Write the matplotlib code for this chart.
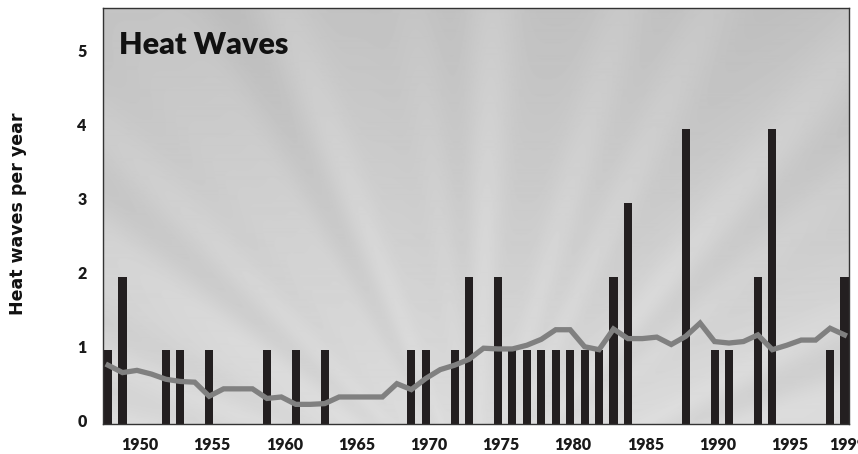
import numpy as np
import matplotlib
matplotlib.use("Agg")
import matplotlib.pyplot as plt
from matplotlib.transforms import ScaledTranslation

# Datos: olas de calor por año y media móvil
years = list(range(1948, 2000))
heat_waves = [1, 2, 0, 0, 1, 1, 0, 1, 0, 0, 0, 1, 0, 1, 0, 1, 0, 0, 0, 0, 0, 1,
              1, 0, 1, 2, 0, 2, 1, 1, 1, 1, 1, 1, 1, 2, 3, 0, 0, 0, 4, 0,
              1, 1, 0, 2, 4, 0, 0, 0, 1, 2]
running_mean = [0.80, 0.70, 0.73, 0.68, 0.61, 0.58, 0.57, 0.38, 0.48, 0.48, 0.48, 0.35,
                0.37, 0.27, 0.27, 0.28, 0.37, 0.37, 0.37, 0.37, 0.55, 0.47, 0.62, 0.74,
                0.80, 0.88, 1.03, 1.02, 1.02, 1.07, 1.15, 1.28, 1.28, 1.05, 1.01, 1.29,
                1.16, 1.16, 1.18, 1.08, 1.19, 1.37, 1.12, 1.10, 1.12, 1.21, 1.01, 1.07,
                1.14, 1.14, 1.30, 1.21]
year_ticks = [1950, 1955, 1960, 1965, 1970, 1975, 1980, 1985, 1990, 1995, 1999]
value_ticks = [0, 1, 2, 3, 4, 5]

fig = plt.figure(figsize=(8.58, 4.54), dpi=100)
ax = fig.add_axes([0.1204, 0.0654, 0.8691, 0.9163])

# Fondo gris con rayos suaves (efecto "sol")
h, w = 416, 746
yy, xx = np.mgrid[0:h, 0:w]
dx = xx - 0.50 * w
dy = (h + 90) - yy
theta = np.arctan2(dx, dy)
r = np.hypot(dx, dy)
rays = (0.012 * np.sin(31 * theta) + 0.009 * np.sin(19 * theta + 1.3)
        + 0.006 * np.sin(47 * theta + 0.4))
fade = np.clip(r / 300.0, 0.3, 1.0)
base = 0.77 + 0.09 * (yy / h) - 0.02 * np.abs(dx / w)
fondo = np.clip(base + rays * fade, 0, 1)
ax.imshow(fondo, cmap="gray", vmin=0, vmax=1, extent=[0, 1, 0, 1],
          transform=ax.transAxes, aspect="auto", zorder=0, interpolation="bilinear")

ax.bar(years, heat_waves, width=0.56, color="#231f20", zorder=2)
ax.plot(years, running_mean, color="#808080", linewidth=3.8, solid_joinstyle="miter", zorder=3)

ax.set_xlim(1947.67, 1999.31)
ax.set_ylim(0, 5.63)
ax.set_xticks(year_ticks)
ax.set_yticks(value_ticks)
ax.tick_params(length=0, labelsize=11.5)
ax.tick_params(axis="x", pad=9)
ax.tick_params(axis="y", pad=12)
for lab in ax.get_xticklabels() + ax.get_yticklabels():
    lab.set_fontfamily("Lato")
    lab.set_fontweight("heavy")
    lab.set_color("#1a1a1a")
# pequeños desplazamientos como en el original
for lab in ax.get_xticklabels():
    lab.set_transform(lab.get_transform() + ScaledTranslation(3 / 100, 0, fig.dpi_scale_trans))
for lab in ax.get_yticklabels():
    lab.set_transform(lab.get_transform() + ScaledTranslation(0, 4 / 100, fig.dpi_scale_trans))

for s in ax.spines.values():
    s.set_color("#333333")
    s.set_linewidth(1.0)

ax.text(0.021, 0.912, "Heat Waves", transform=ax.transAxes, ha="left", va="center",
        fontsize=22, fontweight="heavy", family="Lato", color="#111111", zorder=4)

ax.set_ylabel("Heat waves per year", fontsize=12.5, fontweight="bold", family="DejaVu Sans",
              color="#111111")
ax.yaxis.set_label_coords(-0.114, 0.505)
ax.yaxis.label.set_va("center")

fig.savefig("out.png", dpi=100)
